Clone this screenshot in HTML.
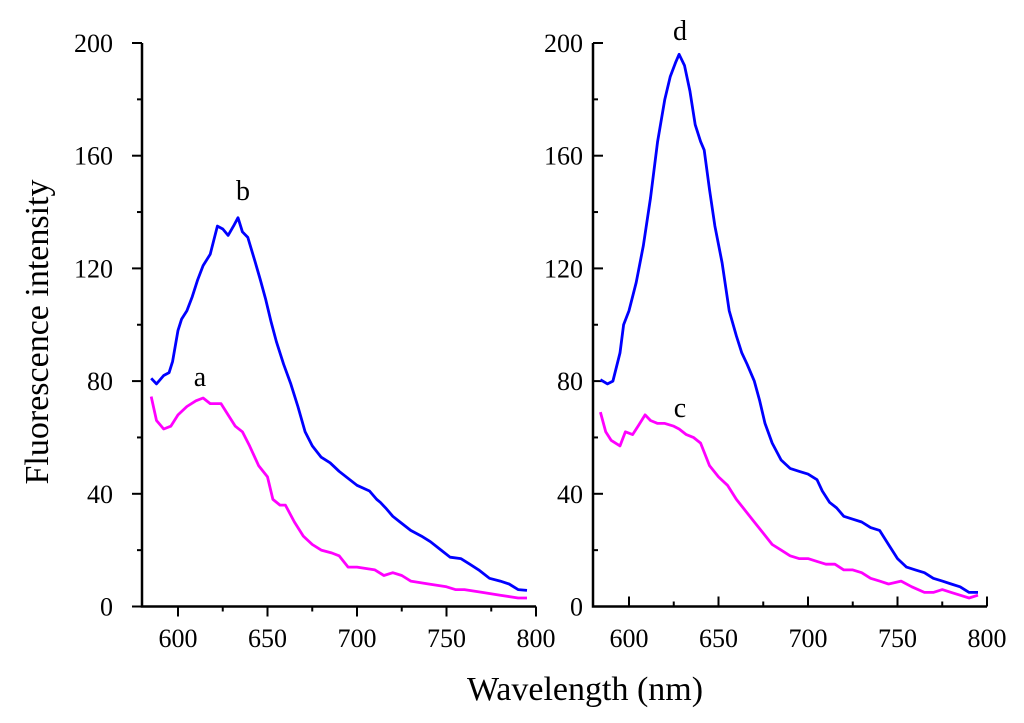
<!DOCTYPE html>
<html><head><meta charset="utf-8">
<style>
html,body{margin:0;padding:0;background:#fff;}
svg{display:block;font-family:"Liberation Serif",serif;}
</style></head>
<body>
<svg id="chart" width="1024" height="723" viewBox="0 0 1024 723">
<text x="48" y="332" font-size="34" text-anchor="middle" transform="rotate(-90 48 332)">Fluorescence intensity</text>
<text x="585" y="700" font-size="34" text-anchor="middle">Wavelength (nm)</text>
</svg>
<script>
const xTicks=[600,650,700,750,800];
const yTicks=[0,40,80,120,160,200];
const aNm=[585,588,592,596,600,605,610,614,618,624,628,632,636,640,645,650,653,657,660,665,670,675,680,686,690,695,700,710,715,720,725,730,740,750,755,760,770,780,790,795];
const aVal=[74.5,66,63,64,68,71,73,74,72,72,68,64,62,57,50,46,38,36,36,30,25,22,20,19,18,14,14,13,11,12,11,9,8,7,6,6,5,4,3,3];
const bNm=[585,588,592,595,597,600,602,605,608,611,614,618,620,622,625,628,631,633.5,636,639,643,646,649,652,655,659,663,667,671,675,680,685,690,696,700,707,711,713,716,720,724,730,736,741,747,752,758,763,768,774,780,785,790,795];
const bVal=[81,79,82,83,87,98,102,105,110,116,121,125,130,135,134,131.7,135,138,133,131,122.5,116,109,101,94,86,79,71,62,57,53,51,48,45,43,41,38,37,35,32,30,27,25,23,20,17.5,17,15,13,10,9,8,6,5.7];
const cNm=[584,587,590,595,598,602,605,609,612,616,620,625,628,632,636,640,645,650,655,660,665,670,675,680,685,690,695,700,705,710,715,720,725,730,735,740,745,752,758,765,770,775,780,785,790,795];
const cVal=[69,62,59,57,62,61,64,68,66,65,65,64,63,61,60,58,50,46,43,38,34,30,26,22,20,18,17,17,16,15,15,13,13,12,10,9,8,9,7,5,5,6,5,4,3,4];
const dNm=[584,588,591,595,597,600,604,608,612,616,620,623,626,628,631,634,637,640,642,645,648,652,656,660,663,666,670,673,676,680,685,690,695,700,705,708,712,716,720,725,730,735,740,745,750,755,760,765,770,775,780,785,790,795];
const dVal=[80.5,79,80,90,100,105,115,128,145,165,180,188,193,196,192,183,171,165,162,148,135,122,105,96,90,86,80,73,65,58,52,49,48,47,45,41,37,35,32,31,30,28,27,22,17,14,13,12,10,9,8,7,5,5];

const svg=document.getElementById('chart');
const NS='http://www.w3.org/2000/svg';
function mk(tag,attrs,parent){const e=document.createElementNS(NS,tag);for(const k in attrs)e.setAttribute(k,attrs[k]);(parent||svg).appendChild(e);return e;}

function panel(x0,x600,x800,yAxisTicksRight,seriesList,labels,name){
  const y0=606.5,y200=43;
  const sx=nm=>x600+(nm-600)*(x800-x600)/200;
  const sy=v=>y0+(y200-y0)*v/200;
  const g=mk('g',{});
  
  
  const ax=mk('path',{d:`M${x0},${y200} V${y0} H${x800}`,stroke:'#000','stroke-width':2.5,fill:'none'},g);
  
  
  for(let v=0;v<=200;v+=20){
    const major=v%40===0;const len=major?10:5;
    const y=sy(v);
    mk('line',{x1:x0,x2:yAxisTicksRight?x0+len:x0-len,y1:y,y2:y,stroke:'#000','stroke-width':2},g);
  }
  yTicks.forEach(v=>{
    const t=mk('text',{x:yAxisTicksRight?x0-10:x0-29,y:sy(v)+9,'font-size':26,'text-anchor':'end'},g);
    t.textContent=v;
    
    
  });
  for(let nm=600;nm<=800;nm+=25){
    const major=nm%50===0;const len=major?10:5;const x=sx(nm);
    mk('line',{x1:x,x2:x,y1:y0,y2:yAxisTicksRight?y0-len:y0+len,stroke:'#000','stroke-width':2},g);
  }
  xTicks.forEach(nm=>{
    const t=mk('text',{x:sx(nm),y:647,'font-size':26,'text-anchor':'middle'},g);
    t.textContent=nm;
    
    
  });
  seriesList.forEach(s=>{
    const d=s.nm.map((n,i)=>(i?'L':'M')+sx(n).toFixed(1)+','+sy(s.v[i]).toFixed(1)).join(' ');
    const p=mk('path',{d:d,stroke:s.c,'stroke-width':2.8,fill:'none','stroke-linejoin':'round'},g);
    
    
  });
  labels.forEach(l=>{
    const t=mk('text',{x:l.x,y:l.y,'font-size':28,'text-anchor':'middle'},g);
    t.textContent=l.t;
    
    
  });
}
panel(142,178,536,false,[{nm:aNm,v:aVal,c:'#ff00ff',name:'series-a'},{nm:bNm,v:bVal,c:'#0000ff',name:'series-b'}],[{t:'a',x:200,y:386},{t:'b',x:243,y:200}],'left-panel');
panel(593,629,987,true,[{nm:cNm,v:cVal,c:'#ff00ff',name:'series-c'},{nm:dNm,v:dVal,c:'#0000ff',name:'series-d'}],[{t:'c',x:680,y:417},{t:'d',x:680,y:40}],'right-panel');
</script>
</body></html>
